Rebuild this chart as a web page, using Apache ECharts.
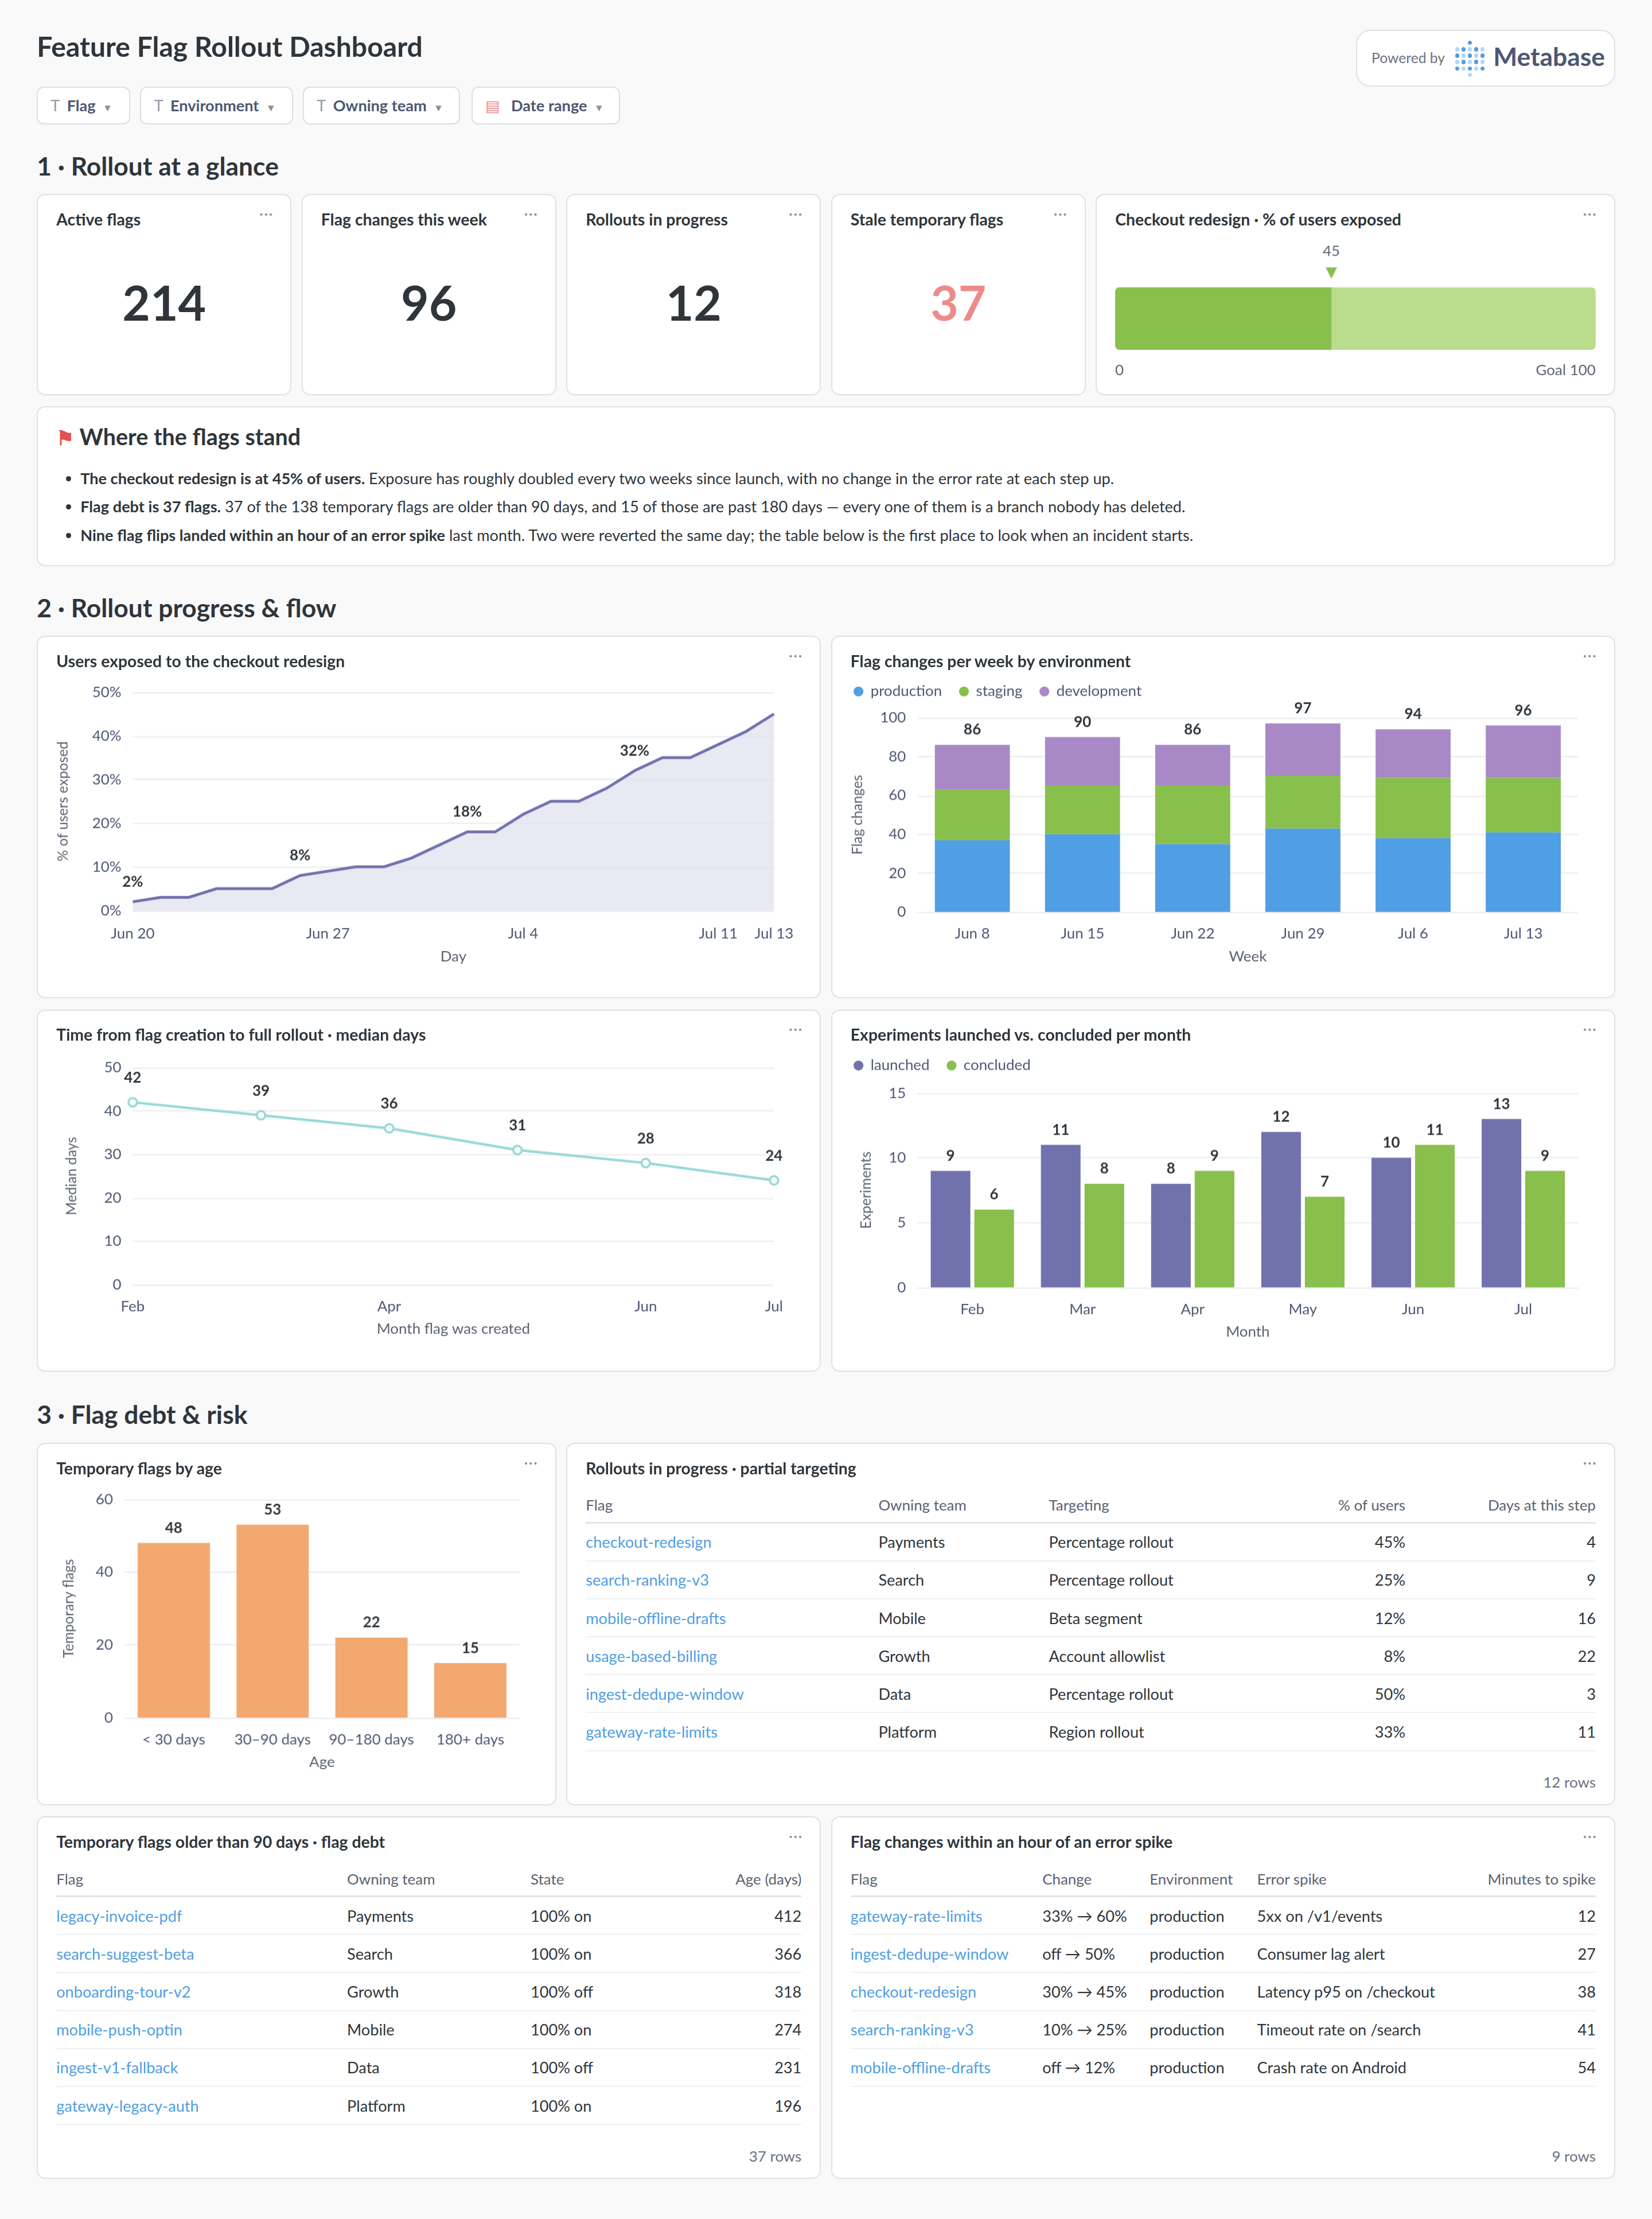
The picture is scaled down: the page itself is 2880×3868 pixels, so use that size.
<!DOCTYPE html>
<html><head><meta charset="utf-8">
<script src="https://cdn.jsdelivr.net/npm/echarts@6/dist/echarts.min.js"></script>
<style>
html,body{margin:0;padding:0;background:#f9f9fa;}
#root{position:relative;width:1167px;height:1568px;zoom:2.468;font-family:Lato,"Noto Sans",sans-serif;color:#2e353b;overflow:hidden;}
.abs{position:absolute;}
.card{position:absolute;background:#fff;border:1px solid #dfe1e4;border-radius:6px;box-sizing:border-box;}
.ct{position:absolute;left:13px;top:10px;font-size:11.5px;font-weight:700;color:#2e353b;}
.dots{position:absolute;right:12px;top:6px;font-size:11px;color:#8a9199;letter-spacing:0.5px;}
.h2{position:absolute;left:26px;font-size:18px;font-weight:700;color:#2e353b;}
.filter{position:absolute;top:61px;height:27px;border:1px solid #dcdfe3;border-radius:5px;background:#fff;box-sizing:border-box;font-size:11px;color:#4c5773;font-weight:700;line-height:25px;padding-left:9px;}
.filter .t{color:#949aab;font-weight:400;margin-right:5px;}
.filter .c{font-size:7px;color:#8a9199;margin-left:5px;}
.big{position:absolute;left:0;right:0;top:55px;text-align:center;font-size:34px;font-weight:700;color:#2e353b;}
table{border-collapse:collapse;font-size:11px;width:100%;}
th{font-weight:400;color:#5a6270;font-size:10.5px;text-align:left;height:24px;border-bottom:1.5px solid #e3e5e8;padding:0;}
td{height:26px;border-bottom:1px solid #eef0f2;padding:0;color:#2e353b;}
td.l{color:#509ee3;}
.r{text-align:right;}
.rows{position:absolute;right:13px;bottom:9px;font-size:10.5px;color:#6b7280;}
ul{margin:0;padding-left:30px;}
li{font-size:11px;line-height:20px;color:#2e353b;}
.chart{position:absolute;left:0;top:0;right:0;bottom:0;}
</style></head><body>
<div id="root">
<div class="abs" style="left:26px;top:21px;font-size:19.5px;font-weight:700;">Feature Flag Rollout Dashboard</div>
<div class="card" style="left:958px;top:21px;width:183px;height:40px;border-radius:10px;">
  <div class="abs" style="left:10px;top:13px;font-size:10px;color:#6b7280;">Powered by</div>
  <div class="abs" id="mblogo" style="left:69px;top:7px;width:22px;height:26px;"></div>
  <div class="abs" style="left:96px;top:7px;font-size:18px;font-weight:700;color:#4c5773;">Metabase</div>
</div>
<div class="filter" style="left:26px;width:66px;"><span class="t">T</span>Flag<span class="c">▼</span></div>
<div class="filter" style="left:99px;width:108px;"><span class="t">T</span>Environment<span class="c">▼</span></div>
<div class="filter" style="left:214px;width:111px;"><span class="t">T</span>Owning team<span class="c">▼</span></div>
<div class="filter" style="left:333px;width:105px;"><span class="t" style="color:#e88">▤</span> Date range<span class="c">▼</span></div>

<div class="h2" style="top:106px;">1 · Rollout at a glance</div>
<div class="card" style="left:26px;top:137px;width:180px;height:142px;"><div class="ct">Active flags</div><div class="dots">···</div><div class="big">214</div></div>
<div class="card" style="left:213px;top:137px;width:180px;height:142px;"><div class="ct">Flag changes this week</div><div class="dots">···</div><div class="big">96</div></div>
<div class="card" style="left:400px;top:137px;width:180px;height:142px;"><div class="ct">Rollouts in progress</div><div class="dots">···</div><div class="big">12</div></div>
<div class="card" style="left:587px;top:137px;width:180px;height:142px;"><div class="ct">Stale temporary flags</div><div class="dots">···</div><div class="big" style="color:#ed8b8b;">37</div></div>
<div class="card" style="left:774px;top:137px;width:367px;height:142px;"><div class="ct">Checkout redesign · % of users exposed</div><div class="dots">···</div><div class="chart" id="c_bullet"></div></div>

<div class="card" style="left:26px;top:287px;width:1115px;height:113px;">
  <div class="abs" style="left:13px;top:11px;font-size:16px;font-weight:700;"><span style="color:#e35050;font-size:14px;">⚑</span> Where the flags stand</div>
  <div class="abs" style="left:0px;top:40px;right:10px;"><ul>
  <li><b>The checkout redesign is at 45% of users.</b> Exposure has roughly doubled every two weeks since launch, with no change in the error rate at each step up.</li>
  <li><b>Flag debt is 37 flags.</b> 37 of the 138 temporary flags are older than 90 days, and 15 of those are past 180 days — every one of them is a branch nobody has deleted.</li>
  <li><b>Nine flag flips landed within an hour of an error spike</b> last month. Two were reverted the same day; the table below is the first place to look when an incident starts.</li>
  </ul></div>
</div>

<div class="h2" style="top:418px;">2 · Rollout progress &amp; flow</div>
<div class="card" style="left:26px;top:449px;width:554px;height:256px;"><div class="chart" id="c_exp"></div><div class="ct">Users exposed to the checkout redesign</div><div class="dots">···</div></div>
<div class="card" style="left:587px;top:449px;width:554px;height:256px;"><div class="chart" id="c_env"></div><div class="ct">Flag changes per week by environment</div><div class="dots">···</div></div>
<div class="card" style="left:26px;top:713px;width:554px;height:256px;"><div class="chart" id="c_med"></div><div class="ct">Time from flag creation to full rollout · median days</div><div class="dots">···</div></div>
<div class="card" style="left:587px;top:713px;width:554px;height:256px;"><div class="chart" id="c_xp"></div><div class="ct">Experiments launched vs. concluded per month</div><div class="dots">···</div></div>

<div class="h2" style="top:988px;">3 · Flag debt &amp; risk</div>
<div class="card" style="left:26px;top:1019px;width:367px;height:256px;"><div class="chart" id="c_age"></div><div class="ct">Temporary flags by age</div><div class="dots">···</div></div>
<div class="card" style="left:400px;top:1019px;width:741px;height:256px;"><div class="ct">Rollouts in progress · partial targeting</div><div class="dots">···</div>
  <div class="abs" style="left:13px;right:13px;top:31px;" id="t1"></div><div class="rows">12 rows</div></div>
<div class="card" style="left:26px;top:1283px;width:554px;height:256px;"><div class="ct">Temporary flags older than 90 days · flag debt</div><div class="dots">···</div>
  <div class="abs" style="left:13px;right:13px;top:31px;" id="t2"></div><div class="rows">37 rows</div></div>
<div class="card" style="left:587px;top:1283px;width:554px;height:256px;"><div class="ct">Flag changes within an hour of an error spike</div><div class="dots">···</div>
  <div class="abs" style="left:13px;right:13px;top:31px;" id="t3"></div><div class="rows">9 rows</div></div>
</div>
<script>
// ---- data ----
const exposureDays = ['Jun 20','Jun 21','Jun 22','Jun 23','Jun 24','Jun 25','Jun 26','Jun 27','Jun 28','Jun 29','Jun 30','Jul 1','Jul 2','Jul 3','Jul 4','Jul 5','Jul 6','Jul 7','Jul 8','Jul 9','Jul 10','Jul 11','Jul 12','Jul 13'];
const exposurePct = [2,3,3,5,5,5,8,9,10,10,12,15,18,18,22,25,25,28,32,35,35,38,41,45];
const exposureLabelIdx = [0,6,12,18];
const exposureTickIdx = [0,7,14,21,23];
const weeks = ['Jun 8','Jun 15','Jun 22','Jun 29','Jul 6','Jul 13'];
const production = [37,40,35,43,38,41];
const staging = [26,25,30,27,31,28];
const development = [23,25,21,27,25,27];
const createdMonths = ['Feb','Mar','Apr','May','Jun','Jul'];
const medianDays = [42,39,36,31,28,24];
const medianTickIdx = [0,2,4,5];
const xpMonths = ['Feb','Mar','Apr','May','Jun','Jul'];
const launched = [9,11,8,12,10,13];
const concluded = [6,8,9,7,11,9];
const ageBuckets = ['< 30 days','30–90 days','90–180 days','180+ days'];
const ageCounts = [48,53,22,15];
const exposedNow = 45, exposedGoal = 100;
const rolloutHead = ['Flag','Owning team','Targeting','% of users','Days at this step'];
const rolloutRows = [
 ['checkout-redesign','Payments','Percentage rollout','45%','4'],
 ['search-ranking-v3','Search','Percentage rollout','25%','9'],
 ['mobile-offline-drafts','Mobile','Beta segment','12%','16'],
 ['usage-based-billing','Growth','Account allowlist','8%','22'],
 ['ingest-dedupe-window','Data','Percentage rollout','50%','3'],
 ['gateway-rate-limits','Platform','Region rollout','33%','11']];
const debtHead = ['Flag','Owning team','State','Age (days)'];
const debtRows = [
 ['legacy-invoice-pdf','Payments','100% on','412'],
 ['search-suggest-beta','Search','100% on','366'],
 ['onboarding-tour-v2','Growth','100% off','318'],
 ['mobile-push-optin','Mobile','100% on','274'],
 ['ingest-v1-fallback','Data','100% off','231'],
 ['gateway-legacy-auth','Platform','100% on','196']];
const spikeHead = ['Flag','Change','Environment','Error spike','Minutes to spike'];
const spikeRows = [
 ['gateway-rate-limits','33% → 60%','production','5xx on /v1/events','12'],
 ['ingest-dedupe-window','off → 50%','production','Consumer lag alert','27'],
 ['checkout-redesign','30% → 45%','production','Latency p95 on /checkout','38'],
 ['search-ranking-v3','10% → 25%','production','Timeout rate on /search','41'],
 ['mobile-offline-drafts','off → 12%','production','Crash rate on Android','54']];

// ---- tables ----
function table(id, head, rows, widths, rightCols){
  let h='<table><colgroup>'+widths.map(w=>'<col style="width:'+w+'px">').join('')+'</colgroup><tr>';
  head.forEach((c,i)=>h+='<th class="'+(rightCols.includes(i)?'r':'')+'">'+c+'</th>');
  h+='</tr>';
  rows.forEach(r=>{h+='<tr>';r.forEach((c,i)=>h+='<td class="'+(i===0?'l ':'')+(rightCols.includes(i)?'r':'')+'">'+c+'</td>');h+='</tr>';});
  document.getElementById(id).innerHTML=h+'</table>';
}
table('t1',rolloutHead,rolloutRows,[206,120,170,81,134],[3,4]);
table('t2',debtHead,debtRows,[206,130,100,92],[3]);
table('t3',spikeHead,spikeRows,[136,76,76,130,110],[4]);

// ---- charts ----
const Z=2.468, DPR=Z*(window.devicePixelRatio||1);
const F='Lato, "Noto Sans", sans-serif';
const AX={color:'#4c5773',fontSize:10.5,fontFamily:F};
function mk(id,opt){const c=echarts.init(document.getElementById(id),null,{renderer:'canvas',devicePixelRatio:DPR});opt.textStyle={fontFamily:F};opt.animation=false;c.setOption(opt);}
const grid=(l,r,t,b)=>({left:l,right:r,top:t,bottom:b,containLabel:false});
const yName=(n,gap)=>({name:n,nameLocation:'middle',nameGap:gap,nameTextStyle:{color:'#5a6270',fontSize:10,fontFamily:F}});
const xName=(n,gap)=>({name:n,nameLocation:'middle',nameGap:gap,nameTextStyle:{color:'#5a6270',fontSize:10.5,fontFamily:F}});
const split={lineStyle:{color:'#eceef0'}};

// Metabase logo dots
(function(){const el=document.getElementById('mblogo');let s='';
 const cols=[0,1,2,3,4],rows=[0,1,2,3,4,5];
 rows.forEach(r=>cols.forEach(c=>{let show=(r>0&&r<5)||c===2;if(!show)return;const dark=(c+r)%2===0;
 s+='<div style="position:absolute;left:'+(c*4.5)+'px;top:'+(r*4.5)+'px;width:3px;height:3px;border-radius:50%;background:'+(dark?'#509ee3':'#b8d6f4')+'"></div>';}));
 el.innerHTML=s;})();

// bullet
mk('c_bullet',{grid:grid(13,13,65,31),
 xAxis:{type:'value',min:0,max:exposedGoal,show:false},
 yAxis:{type:'category',data:['x'],show:false},
 series:[
  {type:'bar',data:[exposedGoal],barWidth:45,itemStyle:{color:'#b9dd8c',borderRadius:3},barGap:'-100%',z:1,silent:true},
  {type:'bar',data:[exposedNow],barWidth:45,itemStyle:{color:'#88bf4d',borderRadius:[3,0,0,3]},z:2,
   markPoint:{symbol:'triangle',symbolRotate:180,symbolSize:[8,8],symbolOffset:[0,-32],itemStyle:{color:'#88bf4d'},
    label:{show:true,position:'top',distance:6,color:'#5a6270',fontSize:10.5,formatter:String(exposedNow)},
    data:[{coord:[exposedNow,0]}]}}
 ],
 graphic:[{type:'text',left:13,bottom:11,style:{text:'0',fill:'#5a6270',font:'10.5px '+F}},
  {type:'text',right:13,bottom:11,style:{text:'Goal '+exposedGoal,fill:'#5a6270',font:'10.5px '+F}}]});

// exposure
mk('c_exp',{grid:grid(67,32,39,61),
 xAxis:Object.assign({type:'category',data:exposureDays,boundaryGap:false,axisLine:{show:false},axisTick:{show:false},
  axisLabel:Object.assign({},AX,{interval:(i)=>exposureTickIdx.includes(i),margin:11,hideOverlap:false})},xName('Day',26)),
 yAxis:Object.assign({type:'value',min:0,max:50,interval:10,axisLabel:Object.assign({},AX,{formatter:'{value}%'}),splitLine:split},yName('% of users exposed',44)),
 series:[{type:'line',data:exposurePct,symbol:'circle',symbolSize:1,showSymbol:true,itemStyle:{color:'rgba(0,0,0,0)'},lineStyle:{color:'#7172ad',width:2},areaStyle:{color:'#dedfee'},
  labelLayout:{hideOverlap:false},
  label:{show:true,position:'top',distance:8,fontSize:10.5,fontWeight:700,color:'#2e353b',formatter:p=>exposureLabelIdx.includes(p.dataIndex)?p.value+'%':''}}]});

// env stacked
const stk=(name,d,c,top)=>({name,type:'bar',stack:'a',data:d,barWidth:53,itemStyle:{color:c},
 label:top?{show:true,position:'top',fontSize:10.5,fontWeight:700,color:'#2e353b',formatter:p=>production[p.dataIndex]+staging[p.dataIndex]+development[p.dataIndex]}:{show:false}});
mk('c_env',{grid:grid(60,25,57,60),
 legend:{left:10,top:28,itemWidth:7,itemHeight:7,icon:'circle',itemGap:12,textStyle:{color:'#4c5773',fontSize:10.5,fontFamily:F}},
 xAxis:Object.assign({type:'category',data:weeks,axisLine:{show:false},axisTick:{show:false},axisLabel:Object.assign({},AX,{margin:10})},xName('Week',24)),
 yAxis:Object.assign({type:'value',min:0,max:100,interval:20,axisLabel:AX,splitLine:split},yName('Flag changes',34)),
 color:['#509ee3','#88bf4d','#a989c5'],
 series:[stk('production',production,'#509ee3'),stk('staging',staging,'#88bf4d'),stk('development',development,'#a989c5',true)]});

// median
mk('c_med',{grid:grid(67,32,40,61),
 xAxis:Object.assign({type:'category',data:createdMonths,boundaryGap:false,axisLine:{show:false},axisTick:{show:false},
  axisLabel:Object.assign({},AX,{interval:(i)=>medianTickIdx.includes(i),margin:10})},xName('Month flag was created',24)),
 yAxis:Object.assign({type:'value',min:0,max:50,interval:10,axisLabel:AX,splitLine:split},yName('Median days',38)),
 series:[{type:'line',data:medianDays,symbol:'circle',symbolSize:6,itemStyle:{color:'#fff',borderColor:'#98d9d9',borderWidth:1.5},
  lineStyle:{color:'#98d9d9',width:1.8},label:{show:true,position:'top',distance:8,fontSize:10.5,fontWeight:700,color:'#2e353b'}}]});

// experiments
const lbl={show:true,position:'top',fontSize:10.5,fontWeight:700,color:'#2e353b'};
mk('c_xp',{grid:grid(60,25,58,59),
 legend:{left:10,top:28,itemWidth:7,itemHeight:7,icon:'circle',itemGap:12,textStyle:{color:'#4c5773',fontSize:10.5,fontFamily:F}},
 xAxis:Object.assign({type:'category',data:xpMonths,axisLine:{show:false},axisTick:{show:false},axisLabel:Object.assign({},AX,{margin:10})},xName('Month',24)),
 yAxis:Object.assign({type:'value',min:0,max:15,interval:5,axisLabel:AX,splitLine:split},yName('Experiments',30)),
 color:['#7172ad','#88bf4d'],
 series:[{name:'launched',type:'bar',data:launched,barWidth:28,barGap:'10%',label:lbl},
  {name:'concluded',type:'bar',data:concluded,barWidth:28,label:lbl}]});

// age
mk('c_age',{grid:grid(61,25,39,61),
 xAxis:Object.assign({type:'category',data:ageBuckets,axisLine:{show:false},axisTick:{show:false},axisLabel:Object.assign({},AX,{margin:10,interval:0,hideOverlap:false})},xName('Age',24)),
 yAxis:Object.assign({type:'value',min:0,max:60,interval:20,axisLabel:AX,splitLine:split},yName('Temporary flags',34)),
 series:[{type:'bar',data:ageCounts,barWidth:51,itemStyle:{color:'#f2a86f'},label:lbl}]});
</script>
</body></html>
